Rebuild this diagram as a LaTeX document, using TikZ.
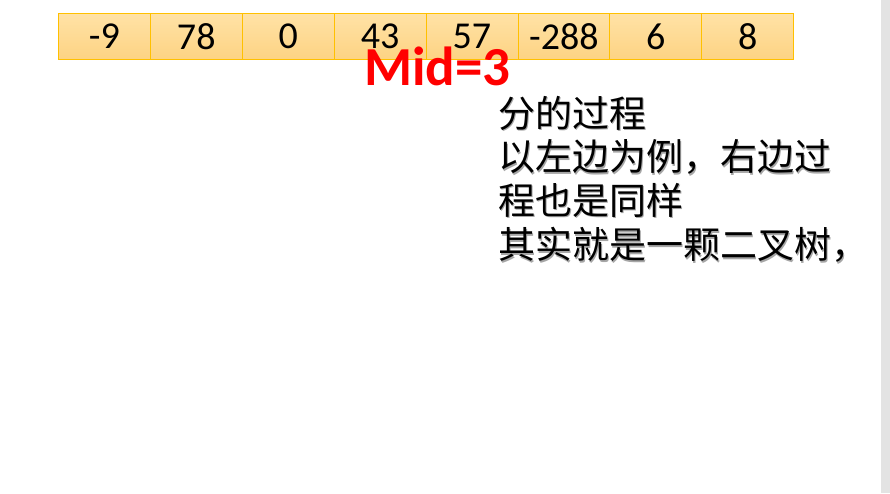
\documentclass[tikz,border=0pt]{standalone}
\usepackage{fontspec}
\setmainfont{Carlito}
\newfontfamily\cjk{Noto Sans CJK SC}
\definecolor{celltop}{HTML}{FFE2A6}
\definecolor{cellbot}{HTML}{FDD383}
\definecolor{cellline}{HTML}{FFC000}
\definecolor{barg}{HTML}{E3E3E3}
\tikzset{
  cell/.style={draw=cellline, line width=0.8pt, top color=celltop, bottom color=cellbot,
    minimum width=91.9pt, minimum height=46pt, inner sep=0pt, anchor=north west,
    font=\fontsize{38}{42}\selectfont, text=black},
  cjkline/.style={anchor=west, inner sep=0pt, font=\cjk\fontsize{37}{40}\selectfont},
  midlabel/.style={inner sep=0pt, text=red, font=\bfseries\fontsize{55}{60}\selectfont}
}
\begin{document}
\begin{tikzpicture}[x=1pt,y=1pt]
\useasboundingbox[fill=white] (0,0) rectangle (890,-494);
\fill[barg] (881,0) rectangle (890,-493);
\foreach \v [count=\i from 0] in {-9,78,0,43,57,-288,6,8}{
  \node[cell] (c\i) at (58+\i*91.9,-13) {\v};
}
\node[midlabel] (mid) at (437.5,-66) {Mid=3};
\foreach \t/\y [count=\k] in {分的过程/-113,以左边为例，右边过/-157,程也是同样/-200,其实就是一颗二叉树，/-245}{
  \node[cjkline, text=black!35] (s\k) at (499.5,\y-1.5) {\t};
  \node[cjkline, text=black] (l\k) at (498,\y) {\t};
}
\end{tikzpicture}
\end{document}
